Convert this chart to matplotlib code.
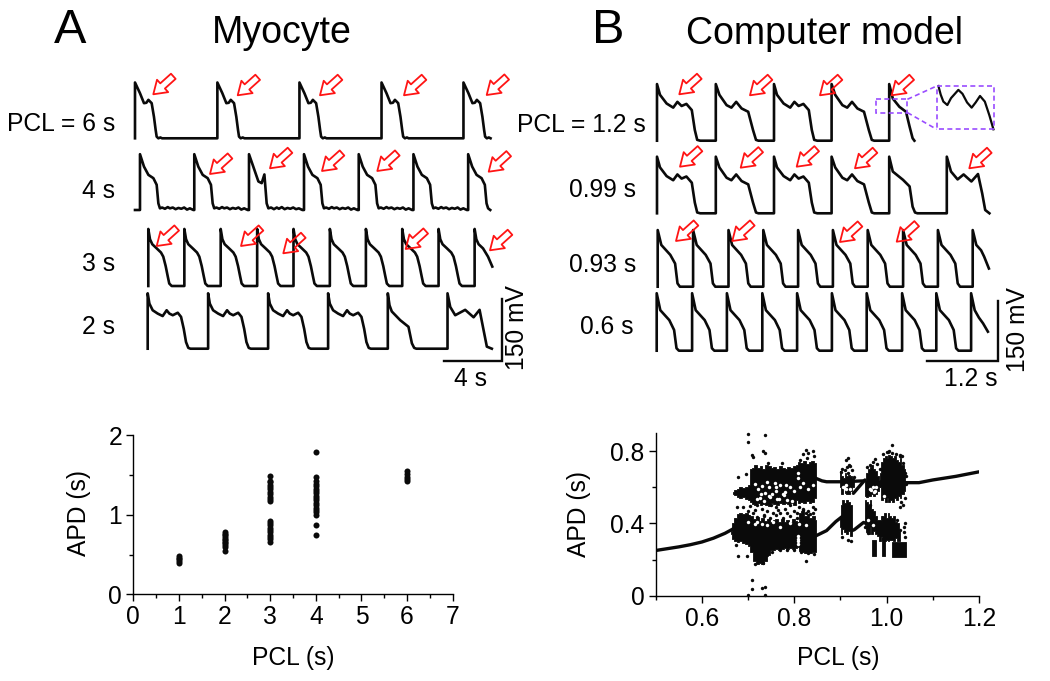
import matplotlib
matplotlib.use('Agg')
import matplotlib.pyplot as plt
from matplotlib.patches import FancyArrowPatch, Rectangle

plt.rcParams['font.family'] = ['Liberation Sans', 'DejaVu Sans']

fig_w = 1050
fig_h = 681
ink = '#0a0a0a'
purple = '#9a4dff'

# beat shapes, time in s and voltage in mV (myocyte)
a_t = [0, 0, .35, .63, .8, .94, 1.17, 1.33, 1.45, 1.52, 1.64, 1.78, 1.9]
a_v = [0, 135, 109, 85, 86, 93, 85, 52, 20, 4, 0, 2, 0]
b_t = [0, 0, .28, .59, .94, 1.17, 1.29, 1.40, 1.55, 1.75, 1.95, 2.1, 2.3, 2.5, 2.7, 2.9, 3.1, 3.3, 3.5, 3.75]
b_v = [0, 135, 105, 85, 77, 61, 16, 4, 6, 3, 7, 4, 6, 2, 5, 3, 6, 1, 4, 0]
b2_t = [0, 0, .30, .66, .89, 1.08, 1.24, 1.36, 1.55, 1.75, 1.95, 2.1, 2.3, 2.5, 2.7, 2.9, 3.1, 3.3, 3.5, 3.75]
b2_v = [0, 135, 105, 69, 65, 86, 16, 4, 6, 2, 6, 3, 7, 2, 5, 3, 6, 2, 4, 0]
b_end_t = [0, 0, .28, .59, .94, 1.17, 1.29, 1.40, 1.55]
b_end_v = [0, 135, 105, 85, 77, 61, 16, 4, 0]
c_t = [0, 0, .12, .28, .59, .89, 1.05, 1.22, 1.36, 1.47, 1.64]
c_v = [0, 138, 113, 101, 91, 81, 71, 48, 24, 6, 0]
c_end_t = [0, 0, .12, .28, .59, .94, 1.24]
c_end_v = [0, 138, 113, 101, 91, 71, 47]
d_t = [0, 0, .12, .35, .70, 1.05, 1.33, 1.52, 1.76, 2.11, 2.34, 2.53, 2.69, 2.85, 3.0]
d_v = [0, 134, 109, 93, 85, 79, 93, 85, 81, 87, 77, 48, 16, 2, 0]
d2_t = [0, 0, .12, .28, .87, 1.45, 1.69, 1.85, 2.0]
d2_v = [0, 134, 105, 90, 69, 53, 13, 2, 0]
d_end_t = [0, 0, .19, .54, 1.24, 1.83, 2.25, 2.53, 2.76, 3.11]
d_end_v = [0, 134, 101, 81, 94, 76, 94, 45, 5, 0]

# beat shapes, computer model
e_t = [0, 0, .05, .16, .27, .34, .41, .49, .58, .63, .67, .72]
e_v = [0, 137, 111, 90, 80, 94, 84, 89, 74, 26, 2, 0]
e2_t = [0, 0, .06, .18, .26, .34, .43, .54, .62, .67, .71]
e2_v = [0, 137, 111, 86, 80, 94, 78, 70, 26, 2, 0]
e3_t = [0, 0, .06, .23, .34, .39, .43, .47]
e3_v = [0, 137, 101, 81, 65, 16, 2, 0]
e_end_t = [0, 0, .06, .17, .28, .34, .39, .42]
e_end_v = [0, 137, 102, 82, 70, 34, 6, 0]
e4_t = [0, 0, .07, .18, .28, .41, .52, .59, .64, .71]
e4_v = [0, 137, 101, 82, 94, 77, 95, 48, 8, 0]
g_t = [0, 0, .06, .21, .29, .33, .37]
g_v = [0, 137, 101, 77, 56, 8, 0]
g_end_t = [0, 0, .06, .14, .19, .27]
g_end_v = [0, 137, 101, 88, 73, 44]
h_t = [0, 0, .06, .21, .29, .33, .37]
h_v = [0, 139, 98, 74, 50, 6, 0]
h_end_t = [0, 0, .06, .13, .2, .28]
h_end_v = [0, 139, 98, 80, 66, 46]

# beat onsets in s
onsets_6s = [0, 5.78, 11.54, 17.3, 23.05]
onsets_4s = [.35, 4.16, 8.0, 11.86, 15.7, 19.54, 23.38]
onsets_3s = [0, 2.53, 5.08, 7.64, 10.19, 12.74, 15.27, 17.82, 20.37, 22.9]
onsets_2s = [0, 4.24, 8.45, 12.66, 16.85, 21.04]
onsets_12 = [0, .98, 1.95, 2.91, 3.87]
onsets_099 = [0, .98, 1.95, 2.91, 3.87, 4.83]
onsets_093 = [0, .59, 1.18, 1.76, 2.34, 2.92, 3.5, 4.09, 4.67, 5.25]
onsets_06 = [0, .59, 1.17, 1.76, 2.34, 2.92, 3.5, 4.09, 4.66, 5.24]

# inset of the model trace, both axes relative
inset_t = [.03, .07, .116, .186, .25, .378, .45, .53, .61, .68, .756, .84, .92, .99]
inset_v = [1.0, .8, .64, .56, .72, .91, .82, .62, .5, .62, .77, .64, .32, 0]

# restitution, myocyte
pcl_a = [1, 2, 3, 4, 6]
apd_1s = [.40, .42, .44, .46, .48]
apd_2s = [.55, .60, .62, .64, .66, .68, .70, .72, .74, .76, .78]
apd_3s = [.66, .69, .72, .75, .78, .81, .84, .87, .90, .92, 1.17, 1.2, 1.23, 1.26, 1.29, 1.32, 1.35, 1.38, 1.41, 1.43, 1.49]
apd_4s = [.75, .87, 1.0, 1.03, 1.06, 1.09, 1.12, 1.15, 1.18, 1.21, 1.24, 1.27, 1.3, 1.33, 1.36, 1.39, 1.42, 1.47, 1.79]
apd_6s = [1.42, 1.45, 1.48, 1.51, 1.55]

# restitution, model: stable branches
low_pcl = [.5, .525, .55, .575, .6, .625, .65, .668]
low_apd = [.25, .26, .27, .282, .297, .318, .345, .37]
mid_pcl = [.846, .87, .89, .905]
mid_apd = [.33, .36, .41, .44]
mid2_pcl = [.925, .93, .95, .955]
mid2_apd = [.36, .365, .405, .40]
rise_pcl = [.928, .953]
rise_apd = [.566, .64]
top_pcl = [.846, .86, .87, .9, .95]
top_apd = [.65, .635, .63, .63, .635]
top2_pcl = [1.04, 1.07, 1.1, 1.15, 1.2]
top2_apd = [.625, .625, .64, .66, .685]

# restitution, model: dense clouds as pcl, low and high edges
up_pcl = [.668, .672, .678, .684, .69, .696, .702, .705, .71, .716, .722, .728, .734, .74, .746, .752, .758, .764, .77, .776,
          .782, .788, .794, .80, .806, .81, .816, .822, .828, .834, .84, .846]
up_lo = [.565, .555, .545, .54, .545, .535, .53, .52, .505, .50, .515, .50, .505, .50, .495, .51, .505, .50, .51, .505,
         .515, .505, .51, .50, .53, .515, .52, .51, .525, .515, .52, .54]
up_hi = [.575, .585, .59, .60, .595, .60, .61, .70, .705, .72, .705, .715, .70, .725, .715, .705, .71, .70, .715, .705,
         .70, .71, .705, .715, .72, .74, .735, .745, .73, .74, .745, .735]
dn_pcl = [.664, .668, .672, .678, .684, .69, .696, .702, .708, .714, .72, .726, .732, .738, .744, .75, .756, .762, .768, .774,
          .78, .786, .792, .798, .804, .808, .812, .818, .824, .83, .836, .842, .846]
dn_lo = [.34, .315, .30, .295, .30, .29, .285, .275, .24, .19, .175, .18, .175, .19, .225, .25, .25, .26, .255, .26,
         .265, .26, .265, .26, .265, .27, .245, .24, .235, .24, .235, .24, .24]
dn_hi = [.36, .40, .43, .45, .46, .45, .46, .445, .44, .425, .435, .415, .43, .415, .425, .405, .42, .425, .41, .425,
         .405, .42, .41, .425, .415, .405, .46, .47, .44, .45, .43, .44, .42]
c1u_pcl = [.899, .903, .907, .911, .915, .919, .923, .927, .93]
c1u_lo = [.60, .56, .60, .57, .56, .565, .58, .60, .62]
c1u_hi = [.69, .66, .65, .68, .66, .67, .66, .65, .64]
c1d_pcl = [.899, .902, .906, .91, .914, .918, .922, .926]
c1d_lo = [.38, .34, .37, .35, .34, .36, .33, .38]
c1d_hi = [.44, .50, .53, .51, .53, .52, .50, .44]
c2u_pcl = [.953, .957, .961, .965, .969, .973, .977, .981, .985]
c2u_lo = [.55, .545, .55, .55, .56, .55, .56, .58, .60]
c2u_hi = [.64, .68, .70, .71, .72, .70, .69, .66, .64]
c2d_pcl = [.953, .957, .961, .965, .969, .973, .977, .981, .985, .99]
c2d_lo = [.39, .35, .34, .38, .34, .36, .34, .33, .30, .33]
c2d_hi = [.53, .52, .50, .53, .48, .47, .44, .42, .42, .44]
c3u_pcl = [.985, .99, .994, .998, 1.002, 1.006, 1.01, 1.014, 1.018, 1.022, 1.026, 1.03, 1.034, 1.04]
c3u_lo = [.60, .53, .54, .52, .54, .52, .53, .52, .54, .53, .55, .54, .56, .58]
c3u_hi = [.68, .74, .76, .77, .76, .78, .77, .76, .77, .75, .74, .76, .72, .70]
c3d_pcl = [.988, .992, .996, 1.0, 1.004, 1.008, 1.012, 1.016, 1.02, 1.024, 1.028]
c3d_lo = [.33, .31, .30, .31, .30, .31, .31, .30, .32, .30, .30]
c3d_hi = [.40, .44, .46, .43, .46, .44, .43, .44, .41, .40, .36]
s1_pcl = [.969, .977]
s1_lo = [.22, .22]
s1_hi = [.31, .31]
s2_pcl = [.989, .997]
s2_lo = [.22, .22]
s2_hi = [.32, .32]
blk_pcl = [1.011, 1.041]
blk_lo = [.216, .216]
blk_hi = [.295, .295]

# restitution, model: loose points outside the clouds
dot_pcl = [.7005, .7366, .7005, .7078, .71, .733, .7366, .679, .8254, .8413, .8304, .8196, .6753, .674, .679, .6984, .733, .715,
           .8247, .7092, .7078, .7294, .7366, .7005, .7366, .6955, .7438, .7727,
           .69, .70, .71, .72, .73, .74, .75, .76, .77, .78, .79, .80, .81, .82, .83, .84, .84, .705, .715, .735, .755, .765, .785, .805, .825,
           1.011, 1.004, 1.029, .917, .913, .918, .975, .901, .917, 1.036, 1.04, 1.04, 1.029, 1.04, 1.038, 1.04, 1.029, 1.022, .917, .923, .903, .953, .96, .964,
           .69, .695, .70, .72, .735, .748, .76, .775, .79, .805, .82, .835, .845, .828, .842, .812,
           .708, .72, .74, .752, .77, .785, .80, .815, .83, .842,
           .903, .909, .915, .921, .926, .93, .957, .964, .97, .98, .985, .992, 1.0, 1.006, 1.012, 1.02, 1.028, 1.034, 1.041, 1.041, 1.036, 1.032, 1.038]
dot_apd = [.892, .888, .851, .778, .769, .802, .787, .658, .805, .802, .791, .783, .488, .28, .22, .22, .179, .173,
           .192, .087, .037, .044, .05, .004, .004, .673, .732, .732,
           .49, .47, .46, .50, .48, .47, .50, .49, .46, .48, .50, .47, .49, .48, .47, .49, .46, .495, .475, .445, .455, .475, .455, .46, .46,
           .833, .796, .778, .759, .75, .722, .754, .686, .676, .732, .676, .538, .492, .40, .382, .326, .363, .418, .308, .302, .326, .382, .345, .501,
           .435, .425, .44, .435, .44, .43, .445, .43, .44, .43, .475, .45, .48, .76, .775, .75,
           .29, .27, .225, .24, .25, .255, .25, .24, .235, .23,
           .70, .695, .71, .715, .695, .655, .71, .725, .74, .73, .70, .785, .795, .80, .79, .785, .775, .77, .66, .62, .50, .52, .35]
# white specks inside the clouds
gap_pcl = [.715, .722, .73, .737, .745, .752, .76, .77, .778, .79, .80, .72, .735, .748, .763, .775, .785, .795, .728, .742, .758, .768, .782,
           .812, .82, .83, .84, .905, .912, .92, .965, .972, .978, .995, .74, .755, .77, .79, .81, .825, .72, .73,
           .809, .809, .809, .809, .809, .809, .726, .745, .76, .78, .70, .714,
           .974, .966, .97, .908, .912, .96, .97]
gap_apd = [.62, .59, .605, .57, .60, .56, .58, .61, .555, .60, .58, .535, .525, .545, .535, .56, .53, .525, .56, .63, .625, .535, .61,
           .60, .625, .59, .61, .60, .61, .59, .59, .575, .60, .55, .39, .405, .38, .40, .395, .39, .41, .395,
           .33, .315, .30, .285, .65, .68, .54, .55, .60, .575, .405, .395,
           .58, .585, .60, .60, .59, .42, .39]

fig = plt.figure(figsize=(fig_w / 100, fig_h / 100), dpi=100)


def px_axes(left, top, right, bottom):
    return fig.add_axes([left / fig_w, 1 - bottom / fig_h, (right - left) / fig_w, (bottom - top) / fig_h])


def draw_row(x0, base, px_per_s, onsets, shapes, start=0.0):
    # one trace, the axes takes care of s and mV -> pixels
    ax = px_axes(x0, base - 80, x0 + 400, base)
    ax.set_xlim(0, 400 / px_per_s)
    ax.set_ylim(0, 80 / (62 / 150))
    ax.axis('off')
    ts = [start]
    vs = [0]
    for onset, (st, sv) in zip(onsets, shapes):
        ts += [onset + t for t in st]
        vs += list(sv)
    ax.plot(ts, vs, color=ink, lw=1.9, clip_on=False, solid_joinstyle='round')


left_scale = 57 / 4
right_scale = 72 / 1.2
A = (a_t, a_v)
B = (b_t, b_v)
E = (e_t, e_v)
E2 = (e2_t, e2_v)
draw_row(135, 138.3, left_scale, onsets_6s, [A] * 5)
draw_row(135, 210, left_scale, onsets_4s, [B, B, (b2_t, b2_v), B, B, B, (b_end_t, b_end_v)])
draw_row(148.3, 286, left_scale, onsets_3s, [(c_t, c_v)] * 9 + [(c_end_t, c_end_v)])
draw_row(147.7, 348.7, left_scale, onsets_2s, [(d_t, d_v)] * 4 + [(d2_t, d2_v), (d_end_t, d_end_v)])
draw_row(657, 140.7, right_scale, onsets_12, [E, E2, E, E2, (e_end_t, e_end_v)])
draw_row(657, 213.3, right_scale, onsets_099, [E, E2, E, E2, (e3_t, e3_v), (e4_t, e4_v)])
draw_row(657.7, 286.7, right_scale, onsets_093, [(g_t, g_v)] * 9 + [(g_end_t, g_end_v)])
draw_row(656.7, 350.7, right_scale, onsets_06, [(h_t, h_v)] * 9 + [(h_end_t, h_end_v)])

# left restitution
ax_a = px_axes(133.3, 435.3, 452.7, 594.3)
for pcl, apd in zip(pcl_a, [apd_1s, apd_2s, apd_3s, apd_4s, apd_6s]):
    ax_a.scatter([pcl] * len(apd), apd, s=19, color=ink, linewidths=0, clip_on=False, zorder=3)
ax_a.set_xlim(0, 7)
ax_a.set_ylim(0, 2)
ax_a.set_xticks(range(8))
ax_a.set_yticks([0, 1, 2])
ax_a.set_xticks([.5, 1.5, 2.5, 3.5, 4.5, 5.5, 6.5], minor=True)
ax_a.set_yticks([.5, 1.5], minor=True)

# right restitution
ax_b = px_axes(655.7, 433.3, 979, 595.7)
for xs, lo, hi in [(up_pcl, up_lo, up_hi), (dn_pcl, dn_lo, dn_hi), (c1u_pcl, c1u_lo, c1u_hi), (c1d_pcl, c1d_lo, c1d_hi),
                   (c2u_pcl, c2u_lo, c2u_hi), (c2d_pcl, c2d_lo, c2d_hi), (c3u_pcl, c3u_lo, c3u_hi), (c3d_pcl, c3d_lo, c3d_hi),
                   (s1_pcl, s1_lo, s1_hi), (s2_pcl, s2_lo, s2_hi), (blk_pcl, blk_lo, blk_hi)]:
    ax_b.fill_between(xs, lo, hi, color=ink, lw=0.6, step='mid', zorder=2)
for xs, ys in [(low_pcl, low_apd), (mid_pcl, mid_apd), (mid2_pcl, mid2_apd), (rise_pcl, rise_apd),
               (top_pcl, top_apd), (top2_pcl, top2_apd)]:
    ax_b.plot(xs, ys, color=ink, lw=2.4, zorder=2, solid_capstyle='round')
ax_b.scatter(gap_pcl, gap_apd, s=6, color='white', linewidths=0, zorder=3)
ax_b.scatter(dot_pcl, dot_apd, s=6, color=ink, linewidths=0, zorder=4, clip_on=False)
ax_b.set_xlim(.5, 1.2)
ax_b.set_ylim(0, .898)
ax_b.set_xticks([.6, .8, 1.0, 1.2])
ax_b.set_xticklabels(['0.6', '0.8', '1.0', '1.2'])
ax_b.set_yticks([0, .4, .8])
ax_b.set_yticklabels(['0', '0.4', '0.8'])
ax_b.set_xticks([.5, .7, .9, 1.1], minor=True)
ax_b.set_yticks([.2, .6], minor=True)

for ax in [ax_a, ax_b]:
    ax.spines['top'].set_visible(False)
    ax.spines['right'].set_visible(False)
    ax.spines['left'].set_linewidth(1.0)
    ax.spines['bottom'].set_linewidth(1.0)
    ax.patch.set_alpha(0)
    ax.tick_params(which='major', length=5, width=1.0, labelsize=17.7, pad=3)
    ax.tick_params(which='minor', length=3, width=1.0)

# inset curve sits in the dashed box
ax_i = px_axes(936.7, 86, 994, 129.3)
ax_i.set_xlim(0, 1)
ax_i.set_ylim(0, 1)
ax_i.axis('off')
ax_i.plot(inset_t, inset_v, color=ink, lw=1.6, clip_on=False)

# overlay in pixels for text, arrows and scale bars
ov = fig.add_axes([0, 0, 1, 1], zorder=10)
ov.set_xlim(0, fig_w)
ov.set_ylim(fig_h, 0)
ov.axis('off')

ov.text(70, 43, 'A', fontsize=35, ha='center', va='baseline')
ov.text(608, 43, 'B', fontsize=35, ha='center', va='baseline')
ov.text(282, 43, 'Myocyte', fontsize=27, ha='center', va='baseline')
ov.text(825, 44, 'Computer model', fontsize=27, ha='center', va='baseline')

row_labels = [(7, 124, 'PCL = 6 s', 'left'), (115, 190.7, '4 s', 'right'), (115, 264, '3 s', 'right'), (115, 327, '2 s', 'right'),
              (517, 125, 'PCL = 1.2 s', 'left'), (636, 190, '0.99 s', 'right'), (636, 264.7, '0.93 s', 'right'), (633, 327, '0.6 s', 'right')]
for x, y, label, ha in row_labels:
    ov.text(x, y, label, fontsize=17.7, ha=ha, va='center')

ov.text(293, 658, 'PCL (s)', fontsize=17.7, ha='center', va='center')
ov.text(838, 658, 'PCL (s)', fontsize=17.7, ha='center', va='center')
ov.text(79, 513, 'APD (s)', fontsize=17.7, ha='center', va='center', rotation=90)
ov.text(579, 514, 'APD (s)', fontsize=17.7, ha='center', va='center', rotation=90)

# scale bars
ov.plot([444.3, 501.7, 501.7], [361, 361, 299.3], color=ink, lw=1.7, solid_joinstyle='miter')
ov.plot([926.7, 998.3, 998.3], [361, 361, 300.7], color=ink, lw=1.7, solid_joinstyle='miter')
ov.text(471, 379, '4 s', fontsize=17.7, ha='center', va='center')
ov.text(971, 379, '1.2 s', fontsize=17.7, ha='center', va='center')
ov.text(517, 328, '150 mV', fontsize=17.7, ha='center', va='center', rotation=90)
ov.text(1018, 330, '150 mV', fontsize=17.7, ha='center', va='center', rotation=90)

# red arrows
arrow_x = [153.3, 237.7, 320, 404, 486.7, 210, 270, 322, 377.3, 488.7, 156.7, 241, 283.3, 405.7, 490,
           679.3, 750, 820, 891.7, 680, 740.7, 796.7, 855, 969.3, 676, 732.3, 840, 896.7]
arrow_y = [94.3, 95.3, 95.3, 95.3, 95, 174, 168.3, 171, 171, 171.7, 246, 246, 253.3, 249, 250.3,
           94.3, 95.3, 95.3, 95.3, 166.7, 167.7, 166.7, 168.3, 168.3, 241, 241, 242, 241.7]
for x, y in zip(arrow_x, arrow_y):
    ov.add_patch(FancyArrowPatch((x + 20, y - 18), (x, y), arrowstyle='simple,head_length=9,head_width=12,tail_width=5',
                                 mutation_scale=1, shrinkA=0, shrinkB=0, fc='none', ec='#ff1414', lw=1.3))

# dashed inset boxes
ov.add_patch(Rectangle((875.7, 99.3), 31.7, 13.3, fill=False, ec=purple, lw=1.2, ls=(0, (3, 2))))
ov.add_patch(Rectangle((936.7, 86), 57.3, 43.3, fill=False, ec=purple, lw=1.2, ls=(0, (3, 2))))
ov.plot([907.4, 936.7], [99.3, 86], color=purple, lw=1.2, ls=(0, (3, 2)))
ov.plot([907.4, 936.7], [112.6, 129.3], color=purple, lw=1.2, ls=(0, (3, 2)))

fig.savefig('out.png', dpi=100)
